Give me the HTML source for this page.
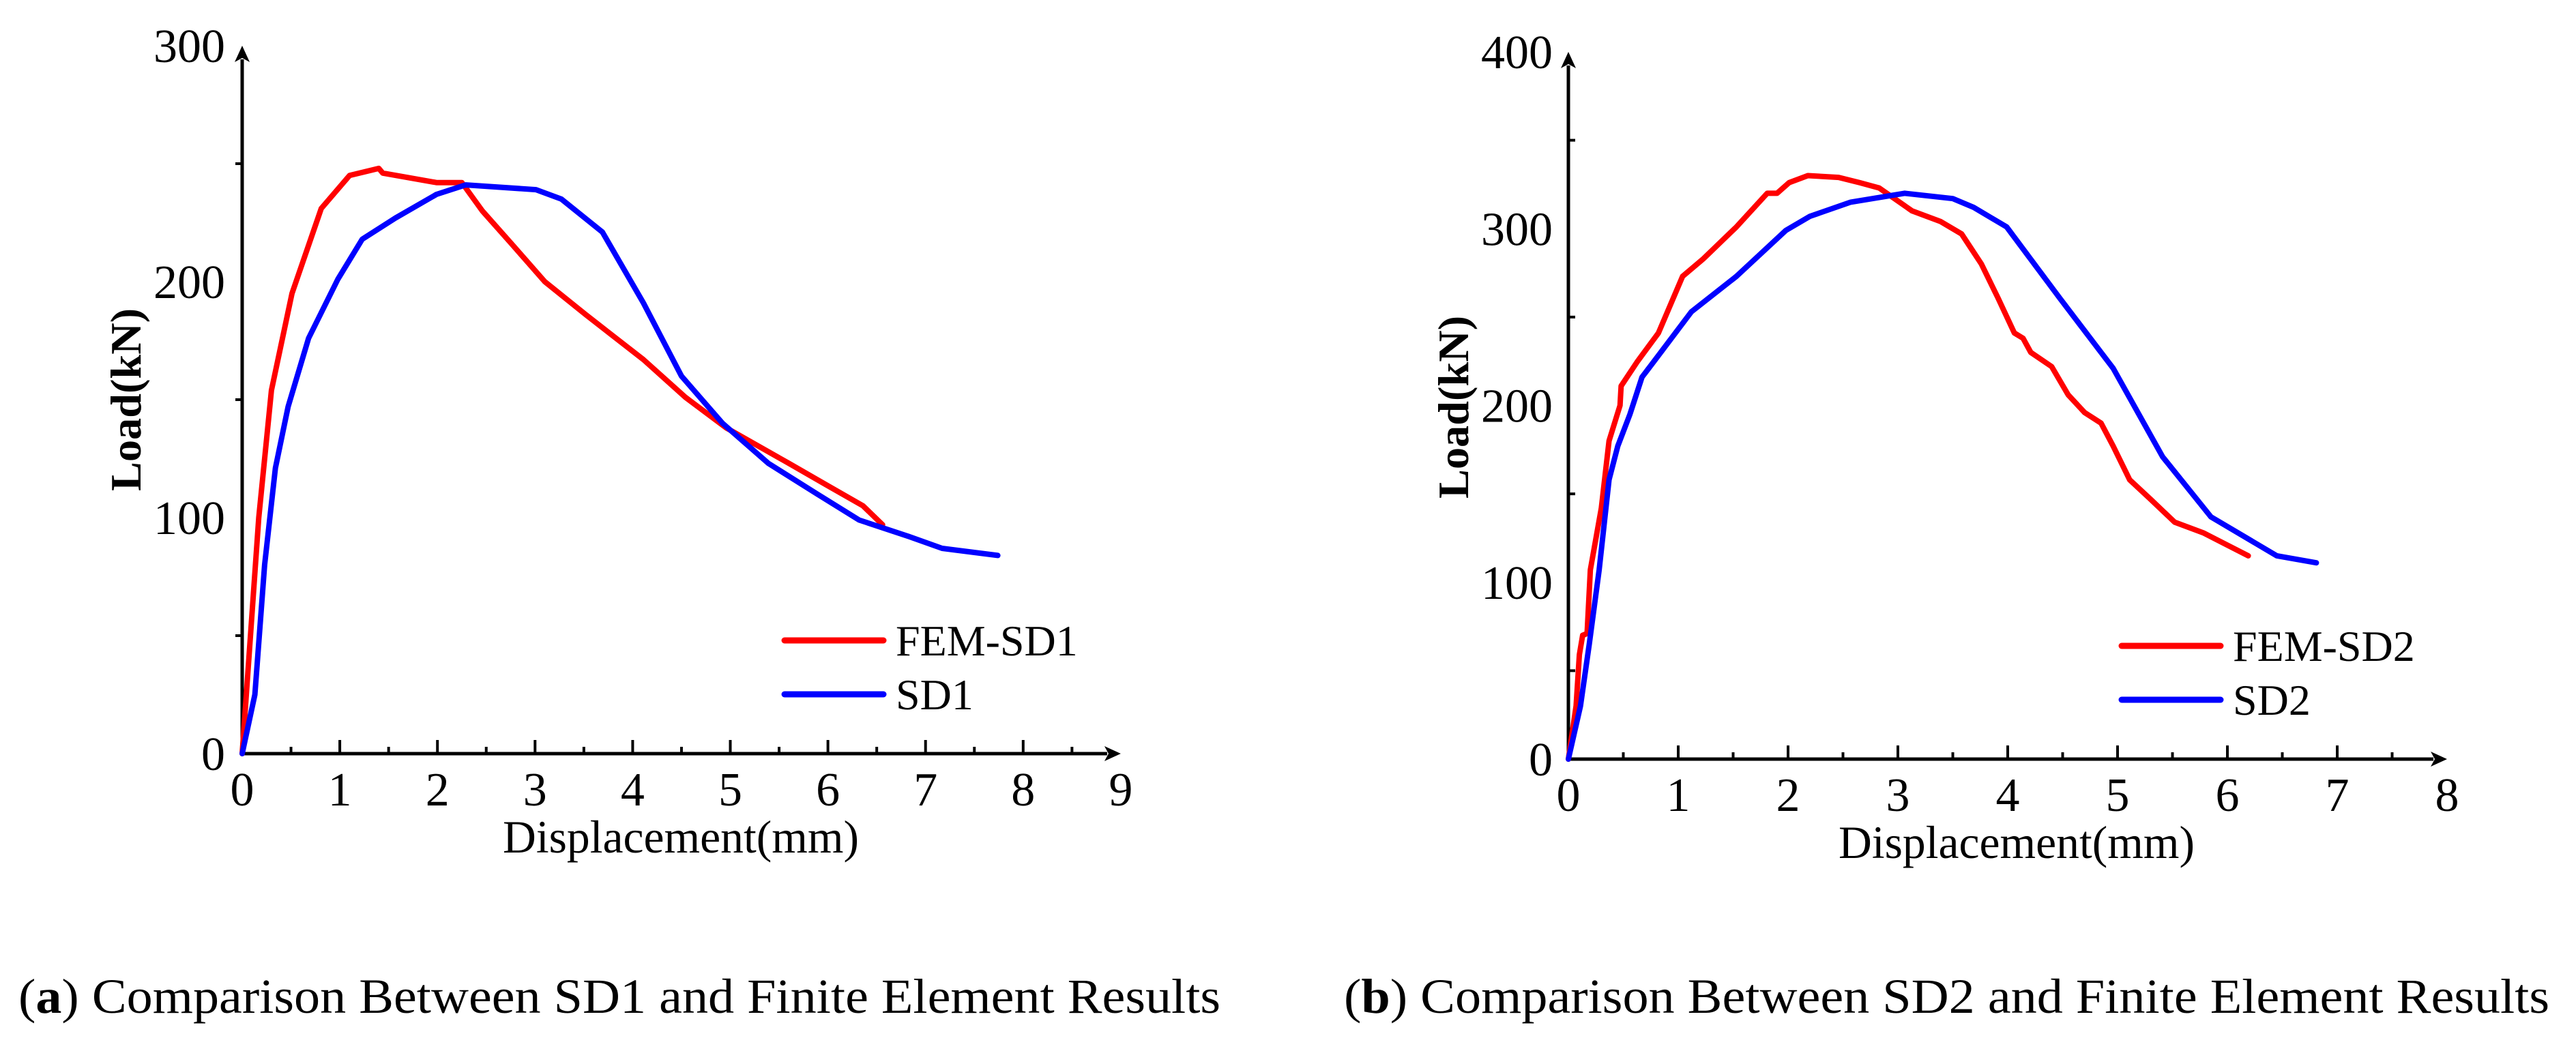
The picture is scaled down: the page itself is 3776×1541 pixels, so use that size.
<!DOCTYPE html>
<html><head><meta charset="utf-8"><style>
html,body{margin:0;padding:0;background:#fff;}
svg{display:block;}
text{font-family:"Liberation Serif",serif;fill:#000;}
</style></head>
<body>
<svg id="fig" width="3776" height="1541" viewBox="0 0 3776 1541" xmlns="http://www.w3.org/2000/svg">
<text x="27" y="1485" font-size="72" textLength="1762" lengthAdjust="spacingAndGlyphs">(<tspan font-weight="bold">a</tspan>) Comparison Between SD1 and Finite Element Results</text>
<text x="1970" y="1485" font-size="72" textLength="1767" lengthAdjust="spacingAndGlyphs">(<tspan font-weight="bold">b</tspan>) Comparison Between SD2 and Finite Element Results</text>
</svg>
<script>
// ---- Chart 1 data ----
const fem1X = [0,0.17,0.3,0.51,0.81,1.10,1.40,1.44,1.99,2.25,2.46,2.76,3.10,3.52,4.11,4.54,4.96,5.60,5.98,6.36,6.56];
const fem1Y = [0,100,154,195,231,245,248,246,242,242,230,216,200,186,167,151,138,123,114,105,97];
const sd1X = [0,0.13,0.23,0.34,0.47,0.68,0.98,1.23,1.57,1.99,2.29,3.01,3.27,3.69,4.11,4.50,4.92,5.39,5.89,6.32,6.83,7.17,7.74];
const sd1Y = [0,25,80,121,147,176,201,218,227,237,241,239,235,221,191,160,140,123,110,99,92,87,84];
const xTicks1 = [0,1,2,3,4,5,6,7,8,9];
const yTicks1 = [0,100,200,300];
// ---- Chart 2 data ----
const fem2X = [0,0.07,0.10,0.13,0.17,0.20,0.30,0.37,0.47,0.48,0.63,0.82,1.04,1.23,1.53,1.81,1.90,2.01,2.18,2.46,2.65,2.83,3.13,3.39,3.58,3.76,3.91,4.06,4.14,4.21,4.40,4.55,4.70,4.85,4.96,5.11,5.30,5.52,5.78,6.00,6.19];
const fem2Y = [0,30,59,70,71,107,142,180,200,211,225,241,273,283,301,320,320,326,330,329,326,323,310,304,297,280,261,241,238,230,222,206,196,190,177,158,147,134,128,121,115];
const sd2X = [0,0.11,0.19,0.28,0.37,0.45,0.56,0.67,0.78,1.12,1.53,1.98,2.20,2.57,3.06,3.50,3.69,3.99,4.47,4.96,5.41,5.85,6.45,6.81];
const sd2Y = [0,30,65,107,158,177,195,216,225,253,273,299,307,315,320,317,312,301,261,221,171,137,115,111];
const xTicks2 = [0,1,2,3,4,5,6,7,8];
const yTicks2 = [0,100,200,300,400];

const NS = "http://www.w3.org/2000/svg";
const svg = document.getElementById('fig');
function mk(tag, attrs, parent){
  const e = document.createElementNS(NS, tag);
  for (const k in attrs) e.setAttribute(k, attrs[k]);
  (parent||svg).appendChild(e);
  return e;
}

function chart(cfg){
  const g = mk('g', {});
  
  
  const sx = v => cfg.x0 + v*cfg.xu;
  const sy = v => cfg.y0 - v*cfg.yu;
  const xMax = cfg.xTicks[cfg.xTicks.length-1];
  const yMax = cfg.yTicks[cfg.yTicks.length-1];
  // axes
  const xa = mk('line', {x1:cfg.x0, y1:cfg.y0, x2:sx(xMax)-20, y2:cfg.y0, stroke:'#000','stroke-width':5}, g);
  
  
  const xar = mk('polygon', {points:`${sx(xMax)},${cfg.y0} ${sx(xMax)-24},${cfg.y0-11} ${sx(xMax)-18},${cfg.y0} ${sx(xMax)-24},${cfg.y0+11}`, fill:'#000'}, g);
  
  
  const ya = mk('line', {x1:cfg.x0, y1:cfg.y0+2, x2:cfg.x0, y2:sy(yMax)+20, stroke:'#000','stroke-width':5}, g);
  
  
  const yar = mk('polygon', {points:`${cfg.x0},${sy(yMax)} ${cfg.x0-11},${sy(yMax)+24} ${cfg.x0},${sy(yMax)+18} ${cfg.x0+11},${sy(yMax)+24}`, fill:'#000'}, g);
  
  
  // x ticks
  cfg.xTicks.forEach((t,i)=>{
    if (i < cfg.xTicks.length-1) {
      const tk = mk('line', {x1:sx(t), y1:cfg.y0, x2:sx(t), y2:cfg.y0-20, stroke:'#000','stroke-width':4}, g);
      
      
      const mn = mk('line', {x1:sx(t+0.5), y1:cfg.y0, x2:sx(t+0.5), y2:cfg.y0-10, stroke:'#000','stroke-width':4}, g);
      
      
    }
    const lb = mk('text', {x:sx(t), y:cfg.y0+cfg.xlOff, 'font-size':70, 'text-anchor':'middle'}, g);
    lb.textContent = t;
    
    
  });
  // y ticks
  cfg.yTicks.forEach((t,i)=>{
    if (i < cfg.yTicks.length-1) {
      const mn = mk('line', {x1:cfg.x0, y1:sy(t+cfg.yStep/2), x2:cfg.x0+cfg.ytDir*10, y2:sy(t+cfg.yStep/2), stroke:'#000','stroke-width':4}, g);
      
      
    }
    const lb = mk('text', {x:cfg.ylRight, y:sy(t)+24, 'font-size':70, 'text-anchor':'end'}, g);
    lb.textContent = t;
    
    
  });
  // titles
  const xt = mk('text', {x:cfg.xtX, y:cfg.xtY, 'font-size':68, 'text-anchor':'middle', textLength:522, lengthAdjust:'spacingAndGlyphs'}, g);
  xt.textContent = 'Displacement(mm)';
  
  
  const yt = mk('text', {x:0, y:0, 'font-size':64, 'font-weight':'bold', 'text-anchor':'middle', transform:`translate(${cfg.ytX},${cfg.ytY}) rotate(-90)`, textLength:268, lengthAdjust:'spacingAndGlyphs'}, g);
  yt.textContent = 'Load(kN)';
  
  
  // series
  cfg.series.forEach(s=>{
    const pts = s.xs.map((x,i)=>sx(x).toFixed(1)+','+sy(s.ys[i]).toFixed(1)).join(' ');
    const pl = mk('polyline', {points:pts, fill:'none', stroke:s.color, 'stroke-width':8, 'stroke-linejoin':'round', 'stroke-linecap':'round'}, g);
    
    
  });
  // legend
  cfg.series.forEach((s,i)=>{
    const ly = cfg.legY + i*cfg.legGap;
    const ll = mk('line', {x1:cfg.legX, y1:ly, x2:cfg.legX+145, y2:ly, stroke:s.color, 'stroke-width':9, 'stroke-linecap':'round'}, g);
    
    
    const lt = mk('text', {x:cfg.legX+163, y:ly+22, 'font-size':64}, g);
    lt.textContent = s.label;
    
    
  });
}

chart({name:'chart-sd1', x0:355, y0:1105, xu:143.1, yu:3.46, xTicks:xTicks1, yTicks:yTicks1, yStep:100,
  xlOff:76, ylRight:330, ytDir:-1, xtX:998, xtY:1250, ytX:206, ytY:586,
  legX:1150, legY:939, legGap:79,
  series:[{name:'fem-sd1-line', label:'FEM-SD1', xs:fem1X, ys:fem1Y, color:'#ff0000'},
          {name:'sd1-line', label:'SD1', xs:sd1X, ys:sd1Y, color:'#0000ff'}]});
chart({name:'chart-sd2', x0:2299, y0:1113, xu:161, yu:2.5925, xTicks:xTicks2, yTicks:yTicks2, yStep:100,
  xlOff:76, ylRight:2276, ytDir:1, xtX:2956, xtY:1258, ytX:2152, ytY:597,
  legX:3110, legY:947, legGap:79,
  series:[{name:'fem-sd2-line', label:'FEM-SD2', xs:fem2X, ys:fem2Y, color:'#ff0000'},
          {name:'sd2-line', label:'SD2', xs:sd2X, ys:sd2Y, color:'#0000ff'}]});
</script>
</body></html>
